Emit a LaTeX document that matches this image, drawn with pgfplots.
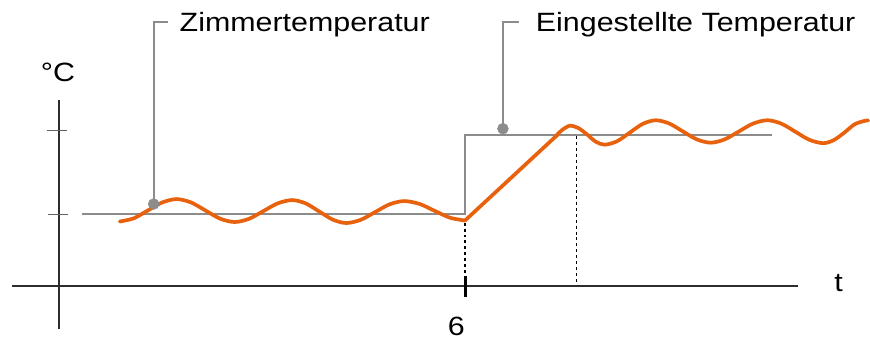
\documentclass[border=0pt]{standalone}
\usepackage{pgfplots}
\pgfplotsset{compat=1.18}
\usepackage{fontspec}
\setmainfont{Liberation Sans}
\definecolor{heat}{RGB}{232,98,14}
\definecolor{lgray}{RGB}{140,140,140}
\definecolor{axgray}{RGB}{45,45,45}
\begin{document}
\begin{tikzpicture}
\begin{axis}[
  width=870pt, height=342pt, scale only axis,
  xmin=0, xmax=870, ymin=0, ymax=342, y dir=reverse,
  axis lines=none, clip=false,
]
\path (axis cs:0,0) rectangle (axis cs:870,342);
% axes
\addplot[axgray, line width=1.4pt] coordinates {(12,286.7) (800,286.7)};
\addplot[axgray, line width=1.4pt] coordinates {(59,100) (59,330)};
\addplot[lgray!70!black, line width=1.4pt] coordinates {(47,131) (67,131)};
\addplot[lgray!70!black, line width=1.4pt] coordinates {(48,215) (68,215)};
\addplot[black, line width=3pt] coordinates {(466,277) (466,298)};
% dashed helper lines
\addplot[black, line width=1.2pt, dash pattern=on 3pt off 3pt] coordinates {(466,223) (466,286)};
\addplot[black, line width=1.2pt, dash pattern=on 3pt off 3pt] coordinates {(578,136) (578,286)};
% set temperature (step)
\addplot[lgray, line width=2.3pt] coordinates {(82,214.3) (466,214.3) (466,135.5) (774,135.5)};
% callouts
\addplot[lgray, line width=2pt] coordinates {(154,204.5) (154,21.7) (168,21.7)};
\addplot[lgray, line width=2pt] coordinates {(504,129) (504,21.7) (520,21.7)};
\addplot[only marks, mark=*, mark size=5.5pt, color=lgray] coordinates {(154,204.5) (504,129)};
% room temperature
\addplot[heat, line width=3.7pt, line join=round, line cap=round, smooth, tension=0.5] coordinates {
(120,222) (134,218.8) (148,211) (162.5,202.9) (177,199.5) (191.5,202.9) (206,211)
(220.5,219.1) (235,222.5) (249.5,219.3) (264,211.5) (278.5,203.7) (293,200.5)
(306.5,203.9) (320,212) (333.5,220.1) (347,223.5) (361.5,220.3) (376,212.5)
(390.5,204.7) (405,201.5) (420.5,204.4) (436,211.5) (451,218.2) (466,221)
};
\addplot[heat, line width=3.7pt, line join=round, line cap=round] coordinates {
(466,221) (559,134.8)
};
\addplot[heat, line width=3.7pt, line join=round, line cap=round, smooth, tension=0.5] coordinates {
(556,137.5) (563,130.5) (571,126) (579.5,128.3) (588,134.5) (597,142) (606,145)
(618.5,141.5) (631,133) (644,124.2) (657,120.5) (670.5,123.7) (684,131.5)
(698,139.6) (712,143) (726,139.8) (740,132) (754.5,123.9) (769,120.5)
(783,123.9) (797,132) (811,140.1) (825,143.5) (835.5,140.4) (846,133)
(856.5,124.5) (867,121) (870,120.8)
};
% texts
\node[anchor=base west, xscale=1.15, font=\fontsize{26.5}{30}\selectfont] at (axis cs:176,31.9) {Zimmertemperatur};
\node[anchor=base west, xscale=1.15, font=\fontsize{26.5}{30}\selectfont] at (axis cs:533,31.9) {Eingestellte Temperatur};
\node[anchor=base west, xscale=1.15, font=\fontsize{26.5}{30}\selectfont] at (axis cs:37,81.7) {°C};
\node[anchor=base west, xscale=1.15, font=\fontsize{26.5}{30}\selectfont] at (axis cs:832,292) {t};
\node[anchor=base, xscale=1.15, font=\fontsize{26.5}{30}\selectfont] at (axis cs:457.3,336.7) {6};
\end{axis}
\end{tikzpicture}
\end{document}
